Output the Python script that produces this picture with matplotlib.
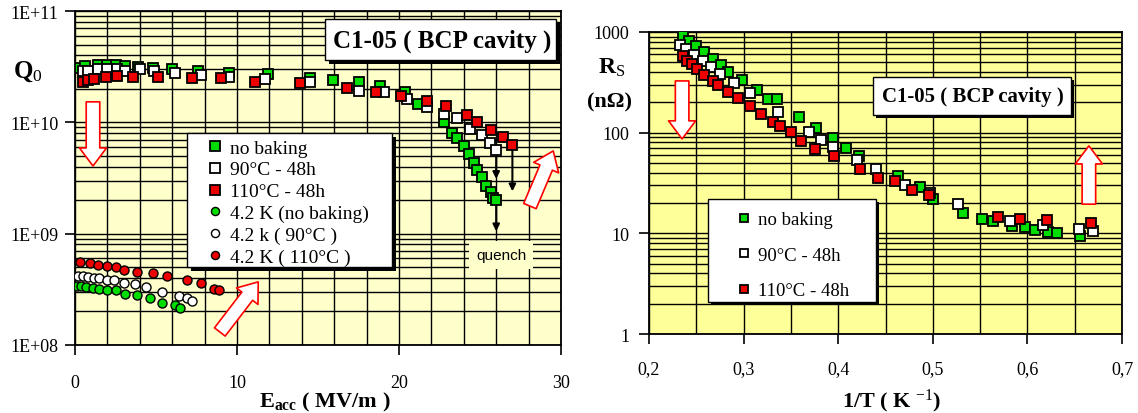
import numpy as np
import matplotlib
matplotlib.use("Agg")
import matplotlib.pyplot as plt
from matplotlib.patches import Rectangle
from matplotlib.ticker import FixedLocator, FuncFormatter, MultipleLocator

plt.rcParams['font.family'] = ['Liberation Serif', 'DejaVu Serif']
plt.rcParams['mathtext.fontset'] = 'custom'
plt.rcParams['mathtext.rm'] = 'Liberation Serif'
plt.rcParams['mathtext.it'] = 'Liberation Serif:italic'
plt.rcParams['mathtext.bf'] = 'Liberation Serif:bold'

# ---- Q0 vs Eacc, 2 K (squares) ----
e_nobake = [0.3, 0.6, 1.4, 2.0, 2.5, 3.1, 3.9, 4.8, 6.0, 7.6, 9.5, 11.9, 14.5, 15.9, 17.5,
            18.8, 20.4, 21.2, 22.8, 23.3, 23.6, 24.0, 24.3, 24.6, 24.8, 25.1, 25.4, 25.7, 25.8, 26.0]
q_nobake = [3.1e10, 3.2e10, 3.3e10, 3.3e10, 3.25e10, 3.2e10, 3.15e10, 3.05e10, 3.0e10, 2.9e10,
            2.8e10, 2.7e10, 2.5e10, 2.4e10, 2.3e10, 2.14e10, 1.87e10, 1.46e10, 1.0e10, 8.1e9,
            7.2e9, 6.1e9, 5.2e9, 4.3e9, 3.7e9, 3.2e9, 2.7e9, 2.35e9, 2.1e9, 2.0e9]

e_90c = [0.5, 0.8, 1.4, 2.0, 2.6, 3.1, 4.0, 4.9, 6.2, 7.8, 9.5, 11.7, 14.5, 17.5, 19.1,
         20.5, 21.7, 22.8, 23.6, 24.4, 25.1, 25.6, 26.0]
q_90c = [2.9e10, 2.9e10, 3.0e10, 3.0e10, 3.0e10, 2.9e10, 3.0e10, 2.9e10, 2.8e10, 2.66e10,
         2.55e10, 2.45e10, 2.3e10, 1.9e10, 1.88e10, 1.62e10, 1.37e10, 1.18e10, 1.09e10,
         8.7e9, 7.7e9, 6.5e9, 5.7e9]

e_110c = [0.5, 0.8, 1.2, 1.9, 2.6, 3.6, 5.1, 7.2, 9.0, 11.1, 13.9, 16.8, 18.6, 20.1, 21.7,
          22.9, 24.2, 24.8, 25.7, 26.4, 27.0]
q_110c = [2.3e10, 2.4e10, 2.45e10, 2.55e10, 2.6e10, 2.55e10, 2.55e10, 2.5e10, 2.5e10, 2.3e10,
          2.25e10, 2.04e10, 1.87e10, 1.72e10, 1.55e10, 1.40e10, 1.16e10, 1.0e10, 8.5e9,
          7.4e9, 6.3e9]

# ---- Q0 vs Eacc, 4.2 K (circles) ----
e_nobake_4k = [0.1, 0.4, 0.7, 1.1, 1.5, 2.0, 2.5, 3.1, 3.8, 4.6, 5.4, 6.2, 6.5]
q_nobake_4k = [3.4e8, 3.4e8, 3.3e8, 3.25e8, 3.2e8, 3.15e8, 3.1e8, 2.9e8, 2.8e8, 2.65e8,
               2.4e8, 2.3e8, 2.15e8]

e_90c_4k = [0.2, 0.5, 0.8, 1.2, 1.5, 2.0, 2.4, 3.0, 3.7, 4.4, 5.4, 6.4, 6.9, 7.2]
q_90c_4k = [4.2e8, 4.2e8, 4.1e8, 4.0e8, 4.0e8, 3.8e8, 3.8e8, 3.6e8, 3.5e8, 3.3e8, 3.0e8,
            2.75e8, 2.65e8, 2.5e8]

e_110c_4k = [0.3, 0.9, 1.4, 2.0, 2.5, 3.0, 3.8, 4.8, 5.7, 6.9, 7.8, 8.6, 8.9]
q_110c_4k = [5.6e8, 5.45e8, 5.2e8, 5.1e8, 5.0e8, 4.7e8, 4.5e8, 4.4e8, 4.2e8, 3.8e8, 3.6e8,
             3.2e8, 3.1e8]

# quench: last point of each 2 K curve and where the arrow ends
quench_e = [26.0, 26.0, 27.0]
quench_from = [2.0e9, 5.7e9, 6.3e9]
quench_to = [1.05e9, 3.1e9, 2.4e9]

# ---- Rs vs 1/T ----
t_nobake = [0.236, 0.242, 0.250, 0.258, 0.268, 0.276, 0.284, 0.298, 0.314, 0.326, 0.335,
            0.359, 0.377, 0.395, 0.408, 0.422, 0.463, 0.486, 0.500, 0.532, 0.552, 0.564,
            0.584, 0.597, 0.608, 0.622, 0.631, 0.656]
rs_nobake = [912, 810, 720, 630, 535, 465, 405, 335, 265, 216, 216, 143, 111, 88, 70, 59,
             37, 29, 22, 15.8, 13.9, 13.3, 11.9, 11.6, 10.8, 10.3, 10.0, 9.4]

t_90c = [0.233, 0.239, 0.248, 0.257, 0.266, 0.275, 0.290, 0.307, 0.336, 0.369, 0.382, 0.395,
         0.420, 0.440, 0.471, 0.497, 0.527, 0.582, 0.617, 0.655, 0.669]
rs_90c = [742, 678, 591, 515, 449, 382, 312, 248, 161, 102, 85, 72, 54, 43.6, 30, 25, 19.5,
          13.3, 12.1, 11.1, 10.6]

t_110c = [0.236, 0.240, 0.245, 0.251, 0.258, 0.268, 0.273, 0.284, 0.294, 0.307, 0.318, 0.331,
          0.338, 0.350, 0.361, 0.376, 0.396, 0.423, 0.442, 0.460, 0.478, 0.496, 0.569, 0.592,
          0.621, 0.667]
rs_110c = [577, 515, 481, 429, 374, 326, 298, 253, 221, 184, 153, 128, 117, 102, 83, 69, 59,
           44, 35.5, 33, 27, 24, 14.5, 13.9, 13.6, 12.6]

labels = ['no baking', '90°C - 48h', '110°C - 48h']
labels_4k = ['4.2 K (no baking)', '4.2 k ( 90°C )', '4.2 K ( 110°C )']
colors = ['#00DD00', 'white', '#EE0000']

W, H = 1138, 414
fig = plt.figure(figsize=(W / 100, H / 100), dpi=100)


def fig_xy(x, y):
    return x / W, 1 - y / H


def box(ax, x0, y0, x1, y1, shadow=4, z=7):
    # white box with a black drop shadow, given in pixel coordinates
    ax.add_patch(Rectangle(fig_xy(x0 + shadow, y1 + shadow), (x1 - x0) / W, (y1 - y0) / H,
                           transform=fig.transFigure, fc='black', ec='none', zorder=z,
                           clip_on=False))
    ax.add_patch(Rectangle(fig_xy(x0, y1), (x1 - x0) / W, (y1 - y0) / H,
                           transform=fig.transFigure, fc='white', ec='black', lw=1,
                           zorder=z + 0.5, clip_on=False))


def hollow_arrow(ax, start, end):
    ax.annotate('', xy=end, xytext=start, xycoords='axes fraction',
                arrowprops=dict(arrowstyle='simple,head_length=1.0,head_width=1.5,tail_width=0.75',
                                fc='white', ec='red', lw=1.2, mutation_scale=13,
                                shrinkA=0, shrinkB=0), zorder=6)


def grid_setup(ax, face):
    ax.set_facecolor(face)
    ax.set_axisbelow(True)
    ax.grid(True, which='both', color='black', lw=1.0)
    for s in ax.spines.values():
        s.set_linewidth(1.3)
    ax.tick_params(which='major', direction='out', length=7, width=1.2, labelsize=13)
    ax.tick_params(which='minor', length=0)


# ---------------- left panel ----------------
ax1 = fig.add_axes([75 / W, 1 - 346 / H, 486 / W, 334 / H])
grid_setup(ax1, '#FFFFCC')
ax1.set_yscale('log')
ax1.set_xlim(0, 30)
ax1.set_ylim(1e8, 1e11)
ax1.xaxis.set_major_locator(MultipleLocator(10))
ax1.xaxis.set_minor_locator(MultipleLocator(2))
ax1.yaxis.set_major_formatter(FuncFormatter(lambda v, p: '1E+%02d' % round(np.log10(v))))
ax1.tick_params(axis='x', pad=14)
ax1.tick_params(axis='y', pad=5)

sq = dict(ls='none', marker='s', ms=7.5, mec='black', mew=1.3, zorder=4)
ci = dict(ls='none', marker='o', ms=6.5, mec='black', mew=1.0, zorder=4)
for e, q, c, lab in zip([e_nobake, e_90c, e_110c], [q_nobake, q_90c, q_110c], colors, labels):
    ax1.plot(e, q, mfc=c, label=lab, **sq)
for e, q, c, lab in zip([e_nobake_4k, e_90c_4k, e_110c_4k], [q_nobake_4k, q_90c_4k, q_110c_4k],
                        colors, labels_4k):
    ax1.plot(e, q, mfc=c, label=lab, **ci)

for e, q0, q1 in zip(quench_e, quench_from, quench_to):
    ax1.annotate('', xy=(e, q1), xytext=(e, q0),
                 arrowprops=dict(arrowstyle='-|>', color='black', lw=1.5, mutation_scale=10,
                                 shrinkA=0, shrinkB=0), zorder=3)

ax1.text(26.3, 6.4e8, 'quench', family='Liberation Sans', fontsize=11, ha='center', va='center',
         bbox=dict(boxstyle='square,pad=0.45', fc='#FFFFCC', ec='none'), zorder=5)

hollow_arrow(ax1, (0.037, 0.728), (0.037, 0.536))
hollow_arrow(ax1, (0.298, 0.039), (0.377, 0.189))
hollow_arrow(ax1, (0.936, 0.416), (0.984, 0.581))

box(ax1, 187, 134, 392, 268)
leg1 = ax1.legend(loc='upper left', bbox_to_anchor=fig_xy(208, 140), bbox_transform=fig.transFigure,
                  frameon=False, fontsize=14, labelspacing=0.22, handlelength=0.7,
                  handletextpad=0.45, borderpad=0, borderaxespad=0, markerscale=0.9)
leg1.set_zorder(9)

box(ax1, 325, 20, 556, 61, z=8)
ax1.text(*fig_xy(442, 41), 'C1-05 ( BCP cavity )', transform=fig.transFigure, fontsize=18,
         fontweight='bold', ha='center', va='center', zorder=11)

fig.text(*fig_xy(28, 72), r'$\mathbf{Q}_{0}$', fontsize=18, ha='center', va='center')
fig.text(*fig_xy(325, 402), r'$\mathbf{E}_{\mathbf{acc}}$ ( MV/m )', fontsize=16,
         fontweight='bold', ha='center', va='center')

# ---------------- right panel ----------------
ax2 = fig.add_axes([649 / W, 1 - 335 / H, 473 / W, 302 / H])
grid_setup(ax2, '#FFFF99')
ax2.set_yscale('log')
ax2.set_xlim(0.2, 0.7)
ax2.set_ylim(1, 1000)
ax2.xaxis.set_major_locator(MultipleLocator(0.1))
ax2.xaxis.set_minor_locator(MultipleLocator(0.05))
ax2.xaxis.set_major_formatter(FuncFormatter(lambda v, p: ('%.1f' % v).replace('.', ',')))
ax2.yaxis.set_major_locator(FixedLocator([1, 10, 100, 1000]))
ax2.yaxis.set_major_formatter(FuncFormatter(lambda v, p: '%d' % round(v)))
ax2.tick_params(axis='x', pad=12)
ax2.tick_params(axis='y', pad=7)

for t, r, c, lab in zip([t_nobake, t_90c, t_110c], [rs_nobake, rs_90c, rs_110c], colors, labels):
    ax2.plot(t, r, mfc=c, label=lab, **sq)

hollow_arrow(ax2, (0.070, 0.838), (0.070, 0.646))
hollow_arrow(ax2, (0.930, 0.430), (0.930, 0.623))

box(ax2, 708, 200, 876, 303, shadow=3)
leg2 = ax2.legend(loc='upper left', bbox_to_anchor=fig_xy(738, 212), bbox_transform=fig.transFigure,
                  frameon=False, fontsize=13.5, labelspacing=0.98, handlelength=0.6,
                  handletextpad=0.45, borderpad=0, borderaxespad=0, markerscale=0.75)
leg2.set_zorder(9)

box(ax2, 873, 78, 1071, 116, shadow=3, z=8)
ax2.text(*fig_xy(973, 97), 'C1-05 ( BCP cavity )', transform=fig.transFigure, fontsize=15,
         fontweight='bold', ha='center', va='center', zorder=11)

fig.text(*fig_xy(612, 68), r'$\mathbf{R}_{\mathrm{S}}$', fontsize=17, ha='center', va='center')
fig.text(*fig_xy(610, 102), '(nΩ)', fontsize=16, fontweight='bold', ha='center', va='center')
fig.text(*fig_xy(892, 401), r'1/T ( K $^{\mathrm{-1}}$)', fontsize=16, fontweight='bold',
         ha='center', va='center')

fig.savefig('out.png', dpi=100)
